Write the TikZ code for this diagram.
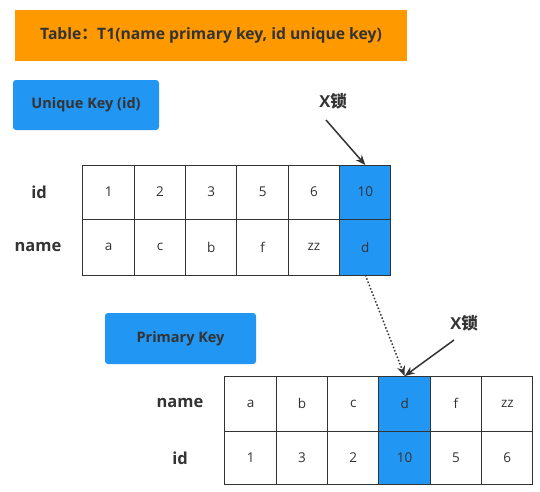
\documentclass[tikz,border=0pt]{standalone}
\usepackage{fontspec}
\setmainfont{Open Sans}
\newfontfamily\cjk{Noto Sans CJK SC}
\usetikzlibrary{arrows.meta}
\definecolor{ink}{HTML}{333333}
\definecolor{keyblue}{HTML}{2196F3}
\definecolor{tblorange}{HTML}{FF9900}
\tikzset{
  cell/.style={draw=ink, line width=1pt, inner sep=0pt, outer sep=0pt, minimum width=51.33pt, text=ink, font=\fontsize{13.5}{15}\selectfont},
  rowlabel/.style={text=ink, font=\fontsize{16.5}{19}\selectfont\bfseries},
  keybox/.style={fill=keyblue, rounded corners=3pt, text=ink, font=\fontsize{14.5}{17}\selectfont\bfseries, inner sep=0pt},
  locklabel/.style={text=ink, font=\fontsize{16.5}{19}\selectfont\bfseries},
  lockarrow/.style={draw=ink, line width=1.5pt, -{Stealth[length=10pt,width=8pt]}},
}
\begin{document}
\begin{tikzpicture}[x=1pt,y=-1pt]
\useasboundingbox (0,0) rectangle (540,491);
% title
\node[fill=tblorange, minimum width=392pt, minimum height=51pt, inner sep=0pt, text=ink, font=\fontsize{15.7}{18}\selectfont\bfseries] (title) at (211,35.5) {Table{\cjk ：}T1(name primary key, id unique key)};
% key boxes
\node[keybox, minimum width=146pt, minimum height=50pt] (uk) at (86,105) {Unique Key (id)};
\node[keybox, minimum width=151pt, minimum height=51pt] (pk) at (180.5,338.5) {Primary Key};
% table 1
\node[rowlabel] (l1id) at (39,192) {id};
\node[rowlabel] (l1name) at (38,247) {name};
\foreach \v/\f [count=\i] in {1/white,2/white,3/white,5/white,6/white,10/keyblue}
  \node[cell, minimum height=54pt, fill=\f] (a\i) at (83+51.33*\i-25.67,192) {\v};
\foreach \v/\f [count=\i] in {a/white,c/white,b/white,f/white,zz/white,d/keyblue}
  \node[cell, minimum height=56pt, fill=\f] (b\i) at (83+51.33*\i-25.67,247) {\v};
% table 2
\node[rowlabel] (l2name) at (180,403) {name};
\node[rowlabel] (l2id) at (180,458) {id};
\foreach \v/\f [count=\i] in {a/white,b/white,c/white,d/keyblue,f/white,zz/white}
  \node[cell, minimum height=55pt, fill=\f] (c\i) at (225+51.33*\i-25.67,403.5) {\v};
\foreach \v/\f [count=\i] in {1/white,3/white,2/white,10/keyblue,5/white,6/white}
  \node[cell, minimum height=53pt, fill=\f] (d\i) at (225+51.33*\i-25.67,457.5) {\v};
% lock labels and arrows
\node[locklabel] (x1) at (333,101) {X{\cjk 锁}};
\node[locklabel] (x2) at (464,323) {X{\cjk 锁}};
\coordinate (x1s) at (326,120);
\coordinate (x2s) at (454,340);
\draw[lockarrow] (x1s) -- (a6.north);
\draw[lockarrow] (x2s) -- (c4.north);
\draw[draw=ink, line width=1.5pt, dotted, -{Stealth[length=10pt,width=8pt]}] (b6.south) -- (c4.north);
\end{tikzpicture}
\end{document}
